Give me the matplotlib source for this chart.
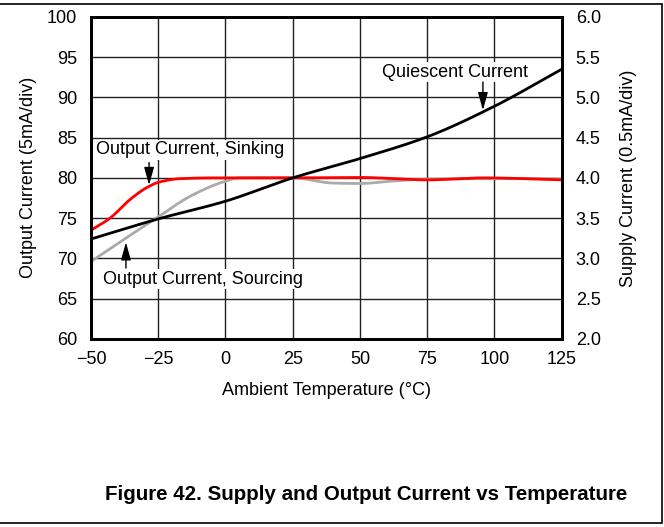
import matplotlib
matplotlib.use('Agg')
import matplotlib.pyplot as plt
import numpy as np

plt.rcParams['font.family'] = ['Liberation Sans', 'DejaVu Sans']

# (temperature in °C)
# quiescent current is on the right axis (mA), the output currents on the left (5mA/div)
quiescent_temp_C = [-50, -25, 0, 25, 50, 75, 100, 125]
quiescent_mA = [3.24, 3.49, 3.71, 4.00, 4.24, 4.51, 4.89, 5.35]

sinking_temp_C = [-50, -42.9, -35.5, -29.2, -24.4, -16.9, -4.7, 25, 50, 75, 96, 125]
sinking_div = [73.5, 75.0, 77.3, 78.8, 79.5, 79.9, 80.0, 80.0, 80.05, 79.75, 80.0, 79.75]

sourcing_temp_C = [-50, -38, -25.6, -13.2, -0.8, 5.4, 25, 40, 50, 62, 75, 100, 125]
sourcing_div = [69.6, 72.3, 75.0, 77.7, 79.5, 80.0, 80.0, 79.35, 79.3, 79.6, 79.85, 79.9, 79.9]

x_ticks = [-50, -25, 0, 25, 50, 75, 100, 125]
left_ticks = [60, 65, 70, 75, 80, 85, 90, 95, 100]
right_ticks = [2.0, 2.5, 3.0, 3.5, 4.0, 4.5, 5.0, 5.5, 6.0]


def smooth(xs, ys, n=400):
    # monotone cubic through the read points, just to get round curves
    xs = np.asarray(xs, float)
    ys = np.asarray(ys, float)
    xx = np.linspace(xs[0], xs[-1], n)
    d = np.diff(ys) / np.diff(xs)
    m = np.zeros_like(ys)
    m[0], m[-1] = d[0], d[-1]
    for i in range(1, len(ys) - 1):
        m[i] = 0.0 if d[i - 1] * d[i] <= 0 else 2 / (1 / d[i - 1] + 1 / d[i])
    idx = np.clip(np.searchsorted(xs, xx) - 1, 0, len(xs) - 2)
    h = xs[idx + 1] - xs[idx]
    t = (xx - xs[idx]) / h
    yy = ((2 * t**3 - 3 * t**2 + 1) * ys[idx] + (t**3 - 2 * t**2 + t) * h * m[idx]
          + (-2 * t**3 + 3 * t**2) * ys[idx + 1] + (t**3 - t**2) * h * m[idx + 1])
    return xx, yy


fig = plt.figure(figsize=(6.64, 5.27), dpi=100)
ax = fig.add_axes([0.137, 0.357, 0.709, 0.611])
ax_right = ax.twinx()

ax.set_xlim(-50, 125)
ax.set_ylim(60, 100)
ax_right.set_ylim(2.0, 6.0)

ax.set_xticks(x_ticks)
ax.set_xticklabels([f'{t}'.replace('-', '\u2212') for t in x_ticks])
ax.set_yticks(left_ticks)
ax_right.set_yticks(right_ticks)
ax_right.set_yticklabels([f'{v:.1f}' for v in right_ticks])

ax.grid(True, color='#222222', linewidth=1.0)
ax.set_axisbelow(True)
for a in (ax, ax_right):
    a.tick_params(length=0, labelsize=13, pad=10)
    for s in a.spines.values():
        s.set_linewidth(2.0)
ax.tick_params(axis='x', pad=9)

ax.set_xlabel('Ambient Temperature (°C)', fontsize=13, labelpad=10)
ax.set_ylabel('Output Current (5mA/div)', fontsize=13, labelpad=7)
ax_right.set_ylabel('Supply Current (0.5mA/div)', fontsize=13, labelpad=14)

xs, ys = smooth(sourcing_temp_C, sourcing_div)
ax.plot(xs, ys, color='#aaaaaa', linewidth=2.0)
xs, ys = smooth(sinking_temp_C, sinking_div)
ax.plot(xs, ys, color='#ff0000', linewidth=2.0)
xs, ys = smooth(quiescent_temp_C, quiescent_mA)
ax_right.plot(xs, ys, color='black', linewidth=2.0)

arrow = dict(arrowstyle='-|>,head_length=0.9,head_width=0.25', color='black',
             linewidth=1.0, mutation_scale=12, shrinkA=0, shrinkB=0)
white = dict(facecolor='white', edgecolor='none', pad=1)
ax.text(85.3, 93.1, 'Quiescent Current', ha='center', va='center', fontsize=13, bbox=white)
ax.annotate('', xy=(95.7, 88.4), xytext=(95.7, 91.9), arrowprops=arrow)
ax.text(-13.2, 83.5, 'Output Current, Sinking', ha='center', va='center', fontsize=13, bbox=white)
ax.annotate('', xy=(-28.4, 79.1), xytext=(-28.4, 81.9), arrowprops=arrow)
ax.text(-8.4, 67.4, 'Output Current, Sourcing', ha='center', va='center', fontsize=13, bbox=white)
ax.annotate('', xy=(-37, 72.0), xytext=(-37, 68.8), arrowprops=arrow)

fig.text(0.551, 0.0626, 'Figure 42. Supply and Output Current vs Temperature',
         ha='center', va='center', fontsize=14.8, fontweight='bold')

# outer frame of the datasheet figure
fig.patches.append(plt.Rectangle((-0.01, 0.008), 1.007, 0.984, transform=fig.transFigure,
                                 fill=False, edgecolor='black', linewidth=1.2))

fig.savefig('out.png', dpi=100)
